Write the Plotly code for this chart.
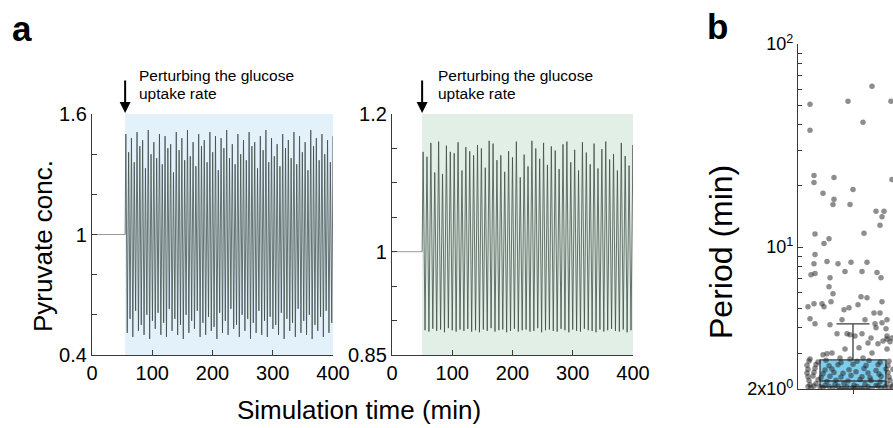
import plotly.graph_objects as go

W, H = 893, 428

# ---------------- data ----------------
baseline = [1.0]
left_t0, left_period = 55, 4.65
right_t0, right_period = 50, 6.45

left_peaks = [1.50,1.41,1.48,1.36,1.51,1.44,1.47,1.33,1.52,1.40,
              1.46,1.38,1.50,1.35,1.49,1.43,1.45,1.31,1.51,1.42,
              1.48,1.37,1.52,1.39,1.46,1.34,1.50,1.44,1.47,1.36,
              1.51,1.41,1.49,1.32,1.48,1.43,1.52,1.38,1.45,1.35,
              1.50,1.40,1.47,1.37,1.51,1.44,1.46,1.33,1.49,1.42,
              1.52,1.36,1.48,1.39,1.45,1.34,1.50,1.43,1.47,1.38,
              1.51,1.35,1.49,1.41,1.46,1.32,1.52,1.44,1.48,1.37,
              1.50,1.40,1.47,1.36,1.49]
left_troughs = [0.51,0.58,0.49,0.62,0.52,0.55,0.50,0.60,0.48,0.57,
                0.53,0.61,0.50,0.56,0.49,0.63,0.52,0.58,0.50,0.55,
                0.48,0.60,0.51,0.57,0.53,0.62,0.49,0.56,0.50,0.59,
                0.52,0.54,0.48,0.61,0.51,0.57,0.50,0.63,0.53,0.55,
                0.49,0.60,0.52,0.58,0.48,0.56,0.51,0.62,0.50,0.57,
                0.49,0.59,0.53,0.55,0.50,0.61,0.48,0.58,0.52,0.56,
                0.49,0.63,0.51,0.57,0.50,0.60,0.48,0.55,0.52,0.59,
                0.49,0.62,0.51,0.56,0.50]

right_peaks = [1.145,1.138,1.158,1.115,1.160,1.113,1.154,1.145,1.143,1.159,
               1.118,1.152,1.146,1.140,1.155,1.150,1.122,1.161,1.157,1.133,
               1.140,1.116,1.146,1.137,1.160,1.108,1.141,1.124,1.161,1.150,
               1.135,1.158,1.126,1.153,1.147,1.120,1.156,1.160,1.130,1.148,
               1.118,1.159,1.144,1.127,1.157,1.121,1.149,1.160,1.134,1.142,
               1.118,1.158,1.139,1.125,1.155]
right_troughs = [0.886,0.884,0.888,0.885,0.887,0.883,0.889,0.886,0.884,0.887,
                 0.885,0.888,0.884,0.886,0.883,0.887,0.885,0.889,0.884,0.886,
                 0.887,0.883,0.885,0.888,0.884,0.886,0.887,0.884,0.885,0.889,
                 0.883,0.886,0.887,0.885,0.884,0.888,0.886,0.883,0.887,0.885,
                 0.884,0.888,0.886,0.885,0.883,0.887,0.884,0.886,0.888,0.885,
                 0.884,0.887,0.883,0.886,0.885]

# panel b: period distribution (jitter position, period in min)
pts_jitter = [-0.43,-0.43,-0.05,0.19,0.10,0.38,
              -0.39,-0.39,-0.19,-0.30,0.00,-0.19,-0.20,-0.03,0.39,0.23,0.31,0.29,0.27,
              -0.38,0.11,-0.29,-0.24,-0.38,-0.39,-0.26,-0.15,-0.02,0.14,-0.38,-0.08,0.09,
              0.24,0.28,-0.23,-0.42,
              -0.24,-0.20,-0.22,-0.45,-0.39,-0.31,-0.29,0.08,0.14,-0.04,-0.09,0.05,0.29,
              0.21,0.27,-0.43,-0.38,-0.23,-0.11,0.12,0.22,0.29,0.34,0.23,0.33,0.34,
              -0.16,-0.03,0.09,0.18,0.15,0.25,0.34,0.37,0.06,-0.08,-0.21,-0.30,-0.26,
              -0.43,-0.13,-0.03,0.10,0.19,0.34,0.39,0.30,-0.06,0.02,
              -0.44,-0.35,-0.27,-0.12,0.04,0.16,0.27,0.36,
              -0.46,-0.37,-0.24,-0.15,0.00,0.13,0.25,0.35,
              -0.45,-0.38,-0.28,-0.21,-0.04,0.11,0.23,0.33,0.40,
              -0.46,-0.39,-0.30,-0.19,-0.10,0.03,0.15,0.26,0.35,
              -0.45,-0.40,-0.32,-0.23,-0.12,-0.02,0.09,0.17,0.28,0.36,
              -0.44,-0.35,-0.26,-0.17,-0.05,0.07,0.18,0.27,0.37,
              -0.43,-0.37,-0.28,-0.18,-0.09,0.01,0.12,0.23,0.34,0.40,
              -0.45,-0.39,-0.33,-0.24,-0.15,-0.06,0.04,0.15,0.25,0.32,0.39,
              -0.42,-0.30,-0.20,-0.11,0.00,0.09,0.19,0.28,0.36]
pts_period = [50.5,37.6,52.3,62.0,41.2,52.3,
              22.5,20.8,22.0,18.4,19.2,17.2,16.2,16.2,21.5,15.0,15.0,14.1,12.8,
              11.6,11.7,10.4,11.0,9.18,8.28,8.48,8.28,8.42,8.42,7.40,7.57,7.57,
              7.50,7.06,7.06,7.30,
              6.38,5.89,5.38,5.08,5.26,5.26,5.08,5.69,5.63,5.03,4.91,5.20,5.38,
              4.74,4.74,4.44,4.19,4.14,4.39,4.39,4.19,4.24,4.39,4.00,3.96,3.65,
              3.74,3.70,3.74,3.57,3.37,3.34,3.53,3.42,3.19,3.15,3.01,2.95,2.98,
              2.81,2.84,2.81,2.84,3.01,3.15,3.57,3.45,3.74,3.65,
              2.75,2.72,2.77,2.70,2.74,2.76,2.71,2.74,
              2.62,2.64,2.60,2.63,2.65,2.61,2.63,2.60,
              2.50,2.53,2.48,2.51,2.49,2.52,2.47,2.51,2.50,
              2.40,2.42,2.38,2.41,2.39,2.43,2.40,2.37,2.41,
              2.30,2.32,2.28,2.31,2.29,2.33,2.30,2.27,2.31,2.29,
              2.20,2.22,2.18,2.21,2.19,2.23,2.20,2.17,2.21,
              2.10,2.12,2.08,2.11,2.13,2.09,2.11,2.08,2.12,2.10,
              2.06,2.07,2.05,2.06,2.07,2.05,2.06,2.05,2.07,2.05,2.06,
              2.02,2.03,2.02,2.01,2.03,2.02,2.01,2.03,2.02]
box_stats = dict(q1=2.05, median=2.19, q3=2.78, lowerfence=2.0, upperfence=4.19)

left_yticks = [0.4, 1, 1.6]
left_yminor = [0.6, 0.8, 1.2, 1.4]
right_yticks = [0.85, 1, 1.2]
right_yminor = [0.9, 0.95, 1.05, 1.1, 1.15]
xticks = [0, 100, 200, 300, 400]
b_ticks = [2, 10, 100]
b_ticktext = ["2x10<sup>0</sup>", "10<sup>1</sup>", "10<sup>2</sup>"]
b_minor = [3, 4, 5, 6, 7, 8, 9, 20, 30, 40, 50, 60, 70, 80, 90]

# ---------------- helpers ----------------
def px_x(p):
    return p / W

def px_y(p):
    return 1 - p / H

def osc(t0, period, peaks, troughs):
    xs, ys = [t0], [baseline[0]]
    for k, (p, tr) in enumerate(zip(peaks, troughs)):
        xs += [t0 + period * (k + 0.25), t0 + period * (k + 0.75)]
        ys += [p, tr]
    return xs, ys

FONT = "Arial, Liberation Sans, sans-serif"
AX = "#3a3a3a"
LINE = "#3c4843"

fig = go.Figure()

lx, ly = osc(left_t0, left_period, left_peaks, left_troughs)
rx, ry = osc(right_t0, right_period, right_peaks, right_troughs)

fig.add_trace(go.Scatter(x=[0, left_t0], y=baseline * 2, mode="lines",
                         line=dict(color="#9a9a9a", width=1), xaxis="x", yaxis="y",
                         showlegend=False, hoverinfo="skip"))
fig.add_trace(go.Scatter(x=lx, y=ly, mode="lines",
                         line=dict(color=LINE, width=0.75, simplify=False),
                         xaxis="x", yaxis="y", showlegend=False))
fig.add_trace(go.Scatter(x=[0, right_t0], y=baseline * 2, mode="lines",
                         line=dict(color="#9a9a9a", width=1), xaxis="x2", yaxis="y2",
                         showlegend=False, hoverinfo="skip"))
fig.add_trace(go.Scatter(x=rx, y=ry, mode="lines",
                         line=dict(color=LINE, width=0.75, simplify=False),
                         xaxis="x2", yaxis="y2", showlegend=False))

fig.add_trace(go.Box(x=[0], q1=[box_stats["q1"]], median=[box_stats["median"]],
                     q3=[box_stats["q3"]], lowerfence=[box_stats["lowerfence"]],
                     upperfence=[box_stats["upperfence"]], width=0.66, whiskerwidth=0.5,
                     fillcolor="#7fcdec", line=dict(color="#3c3c3c", width=1.3),
                     xaxis="x3", yaxis="y3", showlegend=False, boxpoints=False))
fig.add_trace(go.Scatter(x=pts_jitter, y=pts_period, mode="markers",
                         marker=dict(size=5.5, color="rgba(30,30,30,0.5)", line=dict(width=0)),
                         xaxis="x3", yaxis="y3", showlegend=False, cliponaxis=True))

# shaded perturbation windows
fig.add_shape(type="rect", xref="x", yref="y domain", x0=left_t0, x1=410, y0=0, y1=1,
              fillcolor="#e2f1fa", line=dict(width=0), layer="below")
fig.add_shape(type="rect", xref="x2", yref="y2 domain", x0=right_t0, x1=410, y0=0, y1=1,
              fillcolor="#e1efe6", line=dict(width=0), layer="below")

axis_common = dict(showline=True, linecolor=AX, linewidth=1.3, ticks="inside",
                   ticklen=5, tickcolor=AX, tickwidth=1.2, showgrid=False, zeroline=False,
                   tickfont=dict(family=FONT, size=20, color="black"))

fig.update_layout(
    width=W, height=H, margin=dict(l=0, r=0, t=0, b=0, pad=0, autoexpand=False),
    paper_bgcolor="white", plot_bgcolor="rgba(0,0,0,0)",
    font=dict(family=FONT, color="black"),
    xaxis=dict(domain=[px_x(92), px_x(333)], range=[0, 400], tickvals=xticks,
               anchor="y", **axis_common),
    yaxis=dict(domain=[px_y(355), px_y(114)], range=[0.4, 1.6], tickvals=left_yticks,
               ticktext=["0.4", "1", "1.6"], anchor="x",
               minor=dict(tickvals=left_yminor, ticks="inside", ticklen=5,
                          tickcolor=AX, tickwidth=1.2),
               **axis_common),
    xaxis2=dict(domain=[px_x(392), px_x(633)], range=[0, 400], tickvals=xticks,
                anchor="y2", **axis_common),
    yaxis2=dict(domain=[px_y(355), px_y(114)], range=[0.85, 1.2], tickvals=right_yticks,
                ticktext=["0.85", "1", "1.2"], anchor="x2",
                minor=dict(tickvals=right_yminor, ticks="inside", ticklen=5,
                           tickcolor=AX, tickwidth=1.2),
                **axis_common),
    xaxis3=dict(domain=[px_x(798), 1.0], range=[-0.55, 0.40], anchor="y3",
                showline=True, linecolor=AX, linewidth=1.3, ticks="outside",
                tickvals=[0], ticklen=4, tickcolor=AX, showticklabels=False,
                showgrid=False, zeroline=False),
    yaxis3=dict(domain=[px_y(389), px_y(44)], type="log", range=[0.30103, 2],
                anchor="x3", showline=True, linecolor=AX, linewidth=1.3,
                ticks="inside", ticklen=5, tickcolor=AX, tickwidth=1.2,
                tickvals=b_ticks, ticktext=b_ticktext, showgrid=False, zeroline=False,
                tickfont=dict(family=FONT, size=18, color="black"),
                minor=dict(tickvals=b_minor, ticks="inside", ticklen=4,
                           tickcolor=AX, tickwidth=1.1)),
)

ann = []
ann.append(dict(text="<b>a</b>", x=px_x(10), y=px_y(28), xref="paper", yref="paper",
                xanchor="left", yanchor="middle", showarrow=False,
                font=dict(family=FONT, size=35, color="black")))
ann.append(dict(text="<b>b</b>", x=px_x(705), y=px_y(27), xref="paper", yref="paper",
                xanchor="left", yanchor="middle", showarrow=False,
                font=dict(family=FONT, size=35, color="black")))
for xr, t0, tx in [("x", left_t0, 137), ("x2", right_t0, 436)]:
    ann.append(dict(text="", x=t0, y=px_y(113), xref=xr, yref="paper", showarrow=True,
                    ax=0, ay=-34, arrowhead=2, arrowsize=1.1, arrowwidth=2,
                    arrowcolor="black"))
    ann.append(dict(text="Perturbing the glucose", x=px_x(tx), y=px_y(75), xref="paper",
                    yref="paper", xanchor="left", yanchor="middle", showarrow=False,
                    font=dict(family=FONT, size=15.5, color="black")))
    ann.append(dict(text="uptake rate", x=px_x(tx), y=px_y(93), xref="paper",
                    yref="paper", xanchor="left", yanchor="middle", showarrow=False,
                    font=dict(family=FONT, size=15.5, color="black")))
ann.append(dict(text="Pyruvate conc.", x=px_x(43), y=px_y(246), xref="paper", yref="paper",
                textangle=-90, xanchor="center", yanchor="middle", showarrow=False,
                font=dict(family=FONT, size=26, color="black")))
ann.append(dict(text="Simulation time (min)", x=px_x(359), y=px_y(410), xref="paper",
                yref="paper", xanchor="center", yanchor="middle", showarrow=False,
                font=dict(family=FONT, size=26, color="black")))
ann.append(dict(text="Period (min)", x=px_x(721), y=px_y(252), xref="paper", yref="paper",
                textangle=-90, xanchor="center", yanchor="middle", showarrow=False,
                font=dict(family=FONT, size=32, color="black")))
fig.update_layout(annotations=ann)

fig.write_html("out.html",
               post_script="document.documentElement.style.margin='0';"
                           "document.body.style.margin='0';document.body.style.padding='0';")
